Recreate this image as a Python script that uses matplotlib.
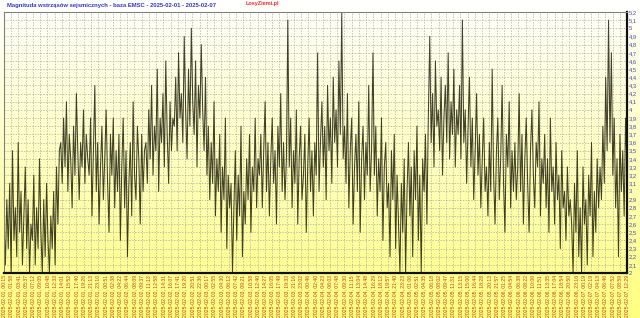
import numpy as np
import matplotlib
matplotlib.use("Agg")
import matplotlib.pyplot as plt
from matplotlib.ticker import FixedLocator, FuncFormatter

title = "Magnituda wstrząsów sejsmicznych - baza EMSC - 2025-02-01 - 2025-02-07"
site = "LosyZiemi.pl"

magnitudes = [
    2.6, 2.1, 2.9, 2.3, 3.1, 2.0, 3.5, 2.4, 2.8, 2.2, 3.6, 2.5, 3.0, 2.1, 2.7, 3.3, 2.3, 2.9, 2.0, 2.6,
    2.4, 3.2, 2.1, 2.8, 2.3, 3.4, 2.5, 2.0, 2.9, 2.2, 3.1, 2.4, 2.0, 2.7, 2.3, 3.0, 2.1, 3.3, 2.6, 3.5,
    3.6, 3.1, 3.9, 3.3, 4.1, 3.0, 3.7, 3.4, 2.8, 3.8, 3.2, 4.2, 3.5, 2.9, 3.6, 3.3, 4.0, 3.1, 3.7, 3.4,
    3.2, 3.9, 2.7, 3.5, 4.3, 3.0, 3.6, 2.6, 3.3, 3.8, 2.9, 3.4, 4.0, 3.1, 2.5, 3.7, 3.2, 3.9, 2.8, 3.5,
    3.0, 3.7, 2.4, 3.3, 3.9, 2.8, 3.5, 2.2, 3.1, 3.6, 2.7, 4.1, 3.2, 2.9, 3.8, 3.4, 2.6, 3.7, 3.0, 3.5,
    3.6, 3.1, 4.0, 3.4, 4.3, 3.2, 3.8, 3.5, 4.5, 3.0, 3.9, 3.6, 4.2, 3.3, 4.6, 3.7, 3.1, 4.1, 3.5, 3.9,
    3.8, 4.4, 3.5, 4.7, 3.9, 4.2, 3.6, 4.9, 4.0, 3.4, 4.5, 3.8, 5.0, 4.1, 3.7, 4.6, 3.3, 4.3, 3.9, 4.8,
    4.0, 3.5, 4.4, 3.2, 3.8, 2.9, 3.6, 3.1, 4.1, 2.7, 3.4, 3.0, 3.7, 2.5, 3.3, 2.9, 3.9, 2.3, 3.2, 2.8,
    3.1, 2.0, 2.8, 3.5, 2.4, 3.2, 2.7, 3.8, 2.2, 3.0, 2.6, 3.4, 2.9, 3.7, 2.5, 3.3, 3.0, 3.9, 2.8, 3.4,
    3.2, 3.7, 2.8, 3.5, 4.1, 3.0, 3.6, 2.7, 3.4, 3.9, 3.1, 3.5, 2.6, 3.8, 3.3, 4.2, 3.0, 3.6, 2.9, 3.4,
    5.1, 3.3, 3.9, 2.8, 3.5, 3.1, 4.0, 2.6, 3.4, 3.8, 2.9, 3.2, 3.7, 2.5, 3.3, 3.9, 3.0, 3.5, 2.7, 3.6,
    3.2, 4.7, 3.0, 3.6, 4.1, 3.3, 3.8, 2.9, 4.3, 3.5, 3.9, 3.1, 4.4, 3.6, 4.0, 3.3, 4.6, 3.7, 5.2, 3.4,
    3.8, 3.1, 4.2, 2.8, 3.5, 3.9, 2.6, 3.3, 3.7, 3.0, 4.1, 2.5, 3.4, 3.8, 2.9, 3.6, 3.2, 4.3, 3.0, 3.5,
    4.7, 3.2, 3.8, 2.7, 3.4, 3.0, 3.9, 2.4, 3.3, 3.6, 2.8, 3.1, 2.2, 3.5, 2.9, 3.7, 2.3, 3.2, 2.6, 2.0,
    3.1, 2.5, 3.4, 2.0, 3.0, 3.6, 2.7, 3.3, 2.2, 3.5, 2.9, 3.8, 2.4, 3.2, 2.0, 3.4, 3.0, 3.7, 2.6, 3.9,
    4.9, 3.6, 4.2, 3.3, 4.6, 3.8, 4.0, 3.5, 4.4, 3.2, 3.9, 4.3, 3.6, 4.7, 3.4, 4.1, 3.7, 4.5, 3.3, 4.0,
    3.7, 4.3, 3.4, 5.1, 3.6, 4.0, 3.1, 3.8, 4.4, 3.3, 3.9, 2.9, 3.5, 4.2, 3.2, 3.7, 2.8, 3.4, 3.9, 3.0,
    3.3, 2.7, 3.6, 3.0, 4.5, 3.2, 2.6, 3.5, 3.9, 2.9, 3.4, 4.3, 3.1, 2.5, 3.7, 3.3, 4.1, 2.8, 3.5, 3.0,
    3.6, 2.9, 3.3, 4.2, 3.0, 3.7, 2.6, 3.4, 3.9, 3.1, 2.5, 3.5, 4.0, 3.2, 2.8, 3.6, 3.3, 4.1, 2.7, 3.4,
    3.1, 3.7, 2.8, 3.4, 2.5, 3.9, 3.0, 3.3, 2.6, 3.6, 2.9, 3.2, 2.3, 3.5, 2.8, 3.0, 2.4, 3.3, 2.7, 2.9,
    2.6, 2.0, 3.1, 2.5, 3.5, 2.2, 2.8, 2.0, 3.3, 2.6, 2.9, 2.1, 3.2, 2.7, 3.6, 2.2, 3.0, 2.5, 3.4, 2.8,
    3.3, 2.9, 3.8, 3.1, 4.4, 3.5, 5.1, 3.6, 4.7, 3.2, 3.9, 2.8, 3.4, 2.2, 3.7, 3.0, 3.5, 2.7, 3.9, 3.3,
]

tick_labels = [
    "2025-02-01, 00:15", "2025-02-01, 01:58", "2025-02-01, 03:41", "2025-02-01, 05:37",
    "2025-02-01, 07:12", "2025-02-01, 09:05", "2025-02-01, 10:48", "2025-02-01, 12:33",
    "2025-02-01, 14:01", "2025-02-01, 15:52", "2025-02-01, 17:40", "2025-02-01, 19:26",
    "2025-02-01, 21:13", "2025-02-01, 23:10",
    "2025-02-02, 00:51", "2025-02-02, 02:38", "2025-02-02, 04:22", "2025-02-02, 06:44",
    "2025-02-02, 08:09", "2025-02-02, 09:37", "2025-02-02, 11:13", "2025-02-02, 12:58",
    "2025-02-02, 14:31", "2025-02-02, 16:07", "2025-02-02, 17:41", "2025-02-02, 19:20",
    "2025-02-02, 20:51", "2025-02-02, 22:36",
    "2025-02-03, 00:17", "2025-02-03, 02:55", "2025-02-03, 04:30", "2025-02-03, 06:12",
    "2025-02-03, 07:42", "2025-02-03, 09:21", "2025-02-03, 10:58", "2025-02-03, 12:40",
    "2025-02-03, 14:27", "2025-02-03, 16:05", "2025-02-03, 17:49", "2025-02-03, 19:33",
    "2025-02-03, 21:16", "2025-02-03, 23:02",
    "2025-02-04, 00:46", "2025-02-04, 02:40", "2025-02-04, 04:23", "2025-02-04, 06:03",
    "2025-02-04, 07:48", "2025-02-04, 09:30", "2025-02-04, 11:15", "2025-02-04, 13:04",
    "2025-02-04, 14:48", "2025-02-04, 16:29", "2025-02-04, 18:12", "2025-02-04, 19:57",
    "2025-02-04, 21:40", "2025-02-04, 23:23",
    "2025-02-05, 01:06", "2025-02-05, 02:51", "2025-02-05, 04:35", "2025-02-05, 06:18",
    "2025-02-05, 08:02", "2025-02-05, 09:47", "2025-02-05, 11:31", "2025-02-05, 13:15",
    "2025-02-05, 15:00", "2025-02-05, 16:44", "2025-02-05, 18:28", "2025-02-05, 20:13",
    "2025-02-05, 21:57",
    "2025-02-06, 01:25", "2025-02-06, 04:54", "2025-02-06, 06:38", "2025-02-06, 08:22",
    "2025-02-06, 10:06", "2025-02-06, 11:51", "2025-02-06, 13:35", "2025-02-06, 17:04",
    "2025-02-06, 18:54", "2025-02-06, 20:50", "2025-02-06, 23:16",
    "2025-02-07, 00:19", "2025-02-07, 02:19", "2025-02-07, 04:13", "2025-02-07, 06:46",
    "2025-02-07, 07:52", "2025-02-07, 08:59", "2025-02-07, 12:29",
]

y_min, y_max = 2.0, 5.2

W, H = 640, 318
fig = plt.figure(figsize=(W / 100, H / 100), dpi=100)

# background gradient white -> yellow over the whole figure
bg = fig.add_axes([0, 0, 1, 1], zorder=-10)
grad = np.linspace(0, 1, 256).reshape(-1, 1)
top = np.array([1.0, 1.0, 1.0])
bot = np.array([1.0, 1.0, 0.5])
img = top[None, None, :] * (1 - grad[:, :, None]) + bot[None, None, :] * grad[:, :, None]
bg.imshow(img, aspect="auto", extent=[0, 1, 0, 1], origin="upper")
bg.set_axis_off()

left, right, top_px, bottom_px = 4, 627, 12, 273
ax = fig.add_axes([left / W, 1 - bottom_px / H, (right - left) / W, (bottom_px - top_px) / H])
ax.patch.set_alpha(0)

n = len(magnitudes)
x = np.arange(n)
ax.plot(x, magnitudes, color="#141400", lw=0.75, alpha=0.8)

ax.set_xlim(0, n - 1)
ax.set_ylim(y_min, y_max)

tick_pos = np.linspace(0, n - 1, len(tick_labels))
ax.xaxis.set_major_locator(FixedLocator(tick_pos))
ax.set_xticklabels(tick_labels, rotation=90, fontsize=3.7, color="#c83c14",
                   family="Liberation Sans", va="top")
yt = np.round(np.arange(y_min, y_max + 0.001, 0.1), 1)
ax.yaxis.set_major_locator(FixedLocator(yt))
ax.yaxis.set_major_formatter(FuncFormatter(
    lambda v, p: (f"{v:.0f}" if abs(v - round(v)) < 1e-6 else f"{v:.1f}").replace(".", ",")))
ax.yaxis.tick_right()
for lab in ax.get_yticklabels():
    lab.set_fontsize(4.2)
    lab.set_color("#4a4aa8")
    lab.set_family("Liberation Sans")
ax.tick_params(axis="both", length=0, pad=1.5)

ax.grid(True, color="#a8a8a0", lw=0.5, ls=(0, (2, 2)))
ax.set_axisbelow(True)

for side in ["top", "left"]:
    ax.spines[side].set_color("#808080")
    ax.spines[side].set_linewidth(0.8)
for side in ["bottom", "right"]:
    ax.spines[side].set_color("#101010")
    ax.spines[side].set_linewidth(1.6)

fig.text(7 / W, 1 - 5 / H, title, fontsize=4.2, color="#3434c8", fontweight="bold",
         family="Liberation Sans", va="center", ha="left")
fig.text(246 / W, 1 - 4 / H, site, fontsize=4.0, color="#f03030", fontweight="bold",
         family="Liberation Sans", va="center", ha="left")

fig.savefig("out.png", dpi=100)
